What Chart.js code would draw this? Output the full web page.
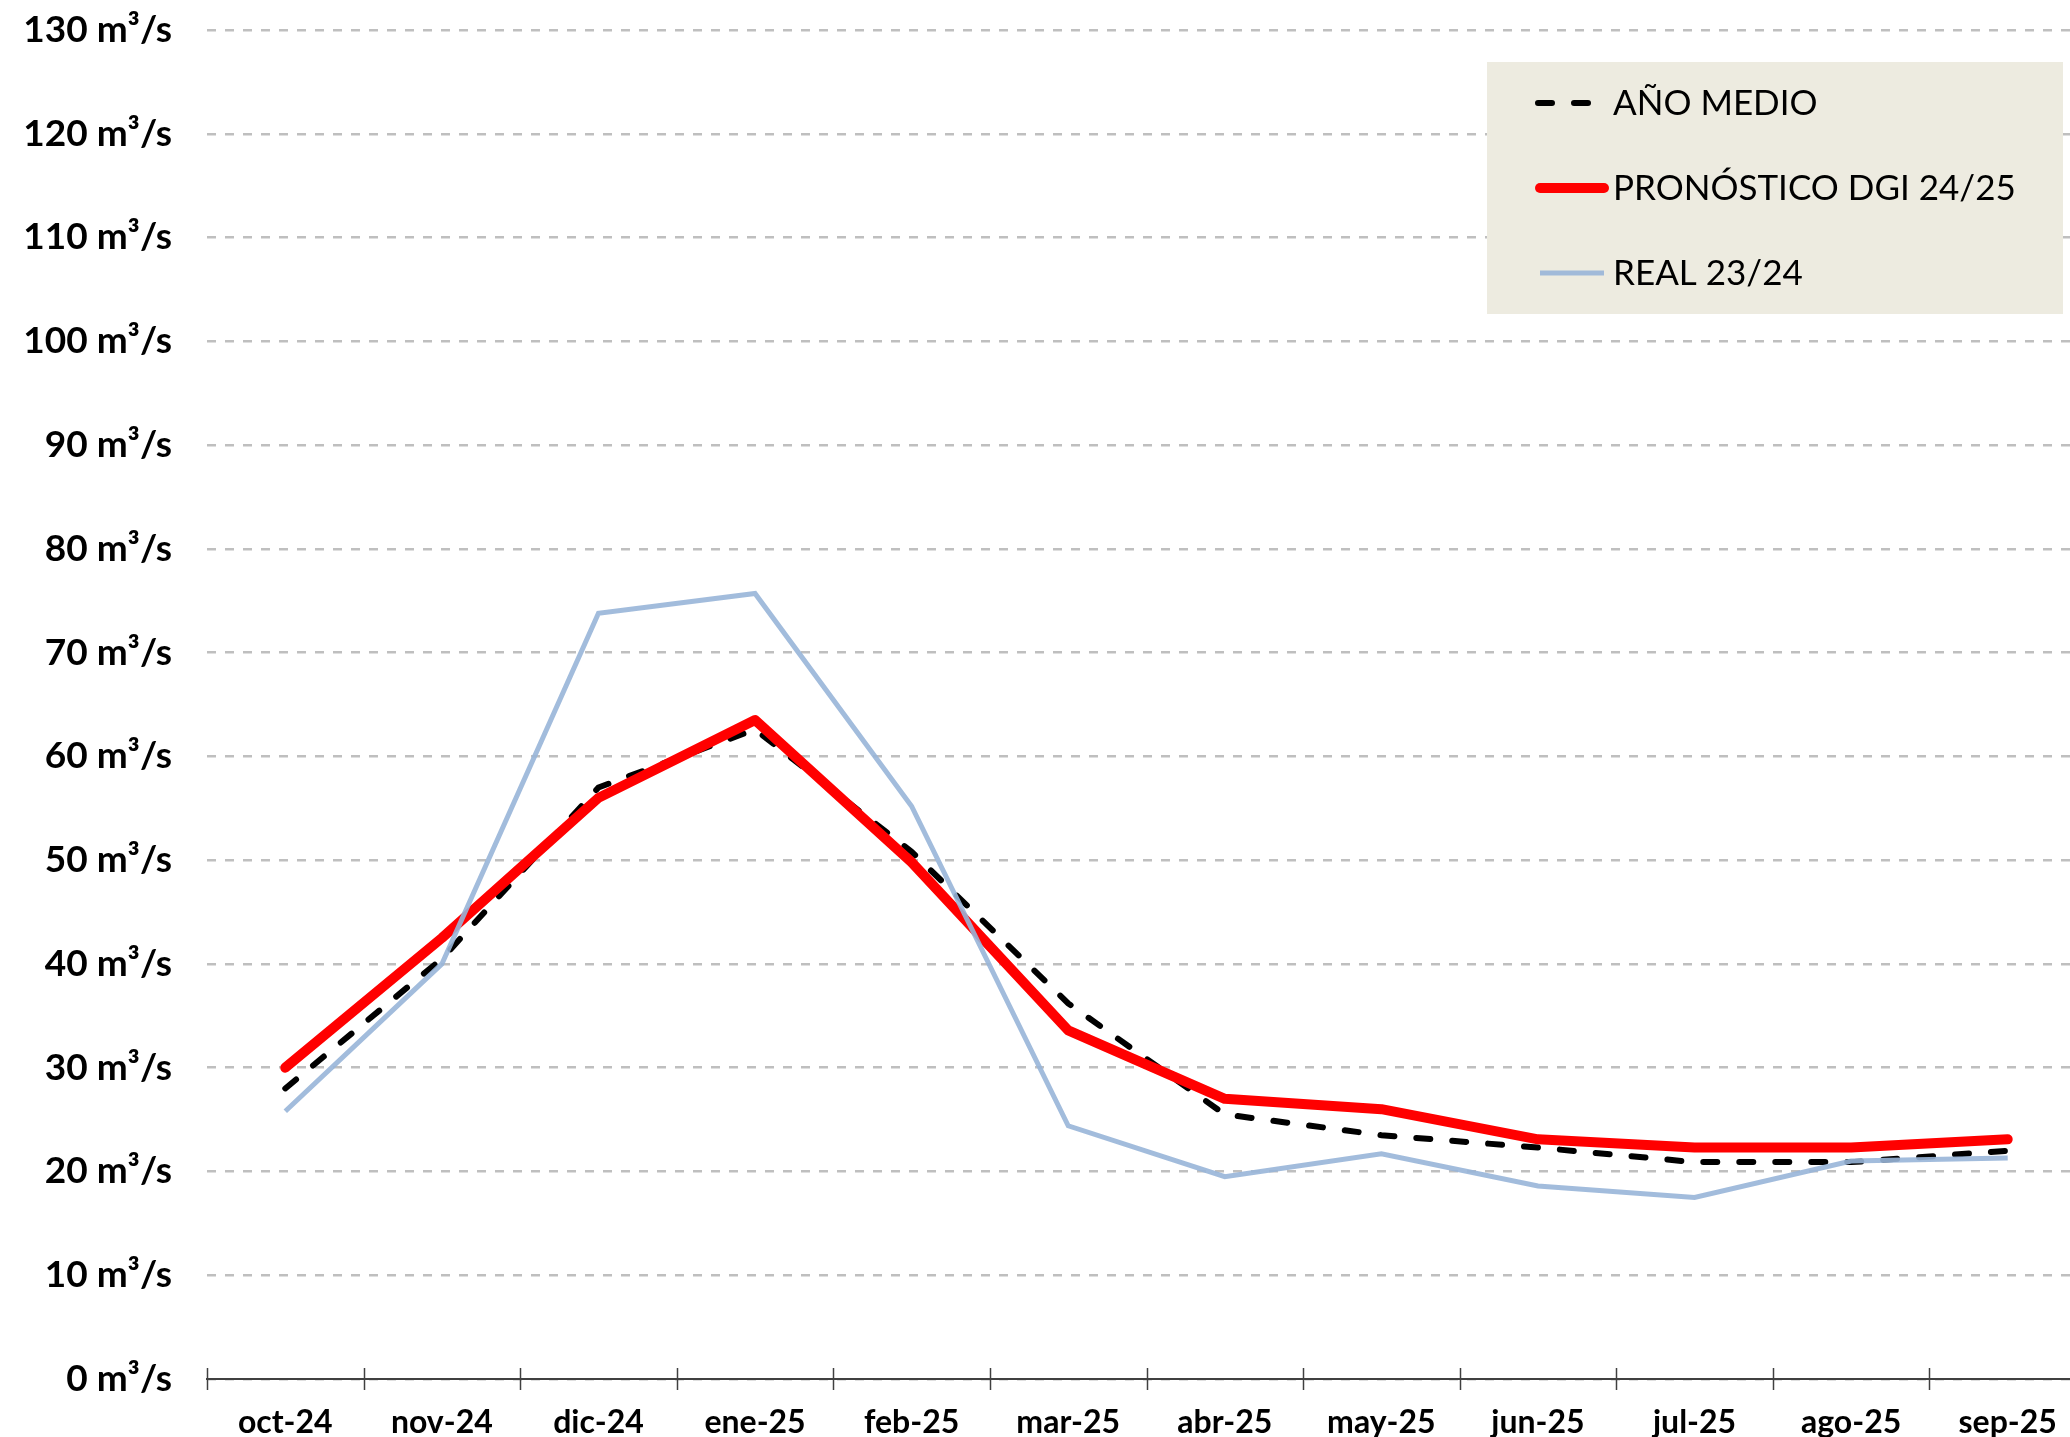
<!DOCTYPE html>
<html lang="es">
<head>
<meta charset="utf-8">
<title>Caudales mensuales</title>
<script src="https://cdn.jsdelivr.net/npm/chart.js@4.4.1/dist/chart.umd.min.js"></script>
<style>
  html, body { margin: 0; padding: 0; background: #ffffff; overflow: hidden; }
  #chart { display: block; }
</style>
</head>
<body>
<canvas id="chart" width="2100" height="1437"></canvas>
<script>
// Meses del año hidrológico
const meses = ['oct-24', 'nov-24', 'dic-24', 'ene-25', 'feb-25', 'mar-25',
  'abr-25', 'may-25', 'jun-25', 'jul-25', 'ago-25', 'sep-25'];

// Caudales en m³/s
const anoMedio = [28, 40.5, 57, 62.6, 50.8, 36.2, 25.5, 23.5, 22.3, 20.9, 20.9, 22.0];
const pronostico = [30, 42.5, 56, 63.5, 49.8, 33.6, 27.0, 26.0, 23.1, 22.3, 22.3, 23.1];
const real = [25.8, 40, 73.8, 75.7, 55.2, 24.4, 19.5, 21.7, 18.6, 17.5, 21.0, 21.3];

const yMin = 0;
const yMax = 130;
const yPaso = 10;

// Marcas cortas que cruzan el eje X en el límite de cada mes
const marcasEjeX = {
  id: 'marcasEjeX',
  afterDraw(chart) {
    const { ctx, scales: { x, y } } = chart;
    const y0 = y.getPixelForValue(0);
    ctx.save();
    ctx.strokeStyle = '#404040';
    ctx.lineWidth = 1.5;
    for (let i = 0; i < meses.length; i++) {
      const px = Math.round(x.getPixelForValue(i - 0.5)) + 0.5;
      ctx.beginPath();
      ctx.moveTo(px, y0 - 11);
      ctx.lineTo(px, y0 + 11);
      ctx.stroke();
    }
    ctx.restore();
  }
};

// Leyenda en recuadro beige, arriba a la derecha
const leyenda = {
  id: 'leyenda',
  afterDraw(chart) {
    const ctx = chart.ctx;
    const caja = { x: 1487, y: 62, w: 576, h: 252 };
    ctx.save();
    ctx.fillStyle = '#EDEBE0';
    ctx.fillRect(caja.x, caja.y, caja.w, caja.h);
    ctx.font = '35px Lato';
    ctx.textBaseline = 'middle';
    ctx.textAlign = 'left';
    chart.data.datasets.forEach((ds, i) => {
      const fy = 103 + i * 85;
      ctx.save();
      ctx.strokeStyle = ds.borderColor;
      ctx.lineWidth = Math.min(ds.borderWidth, 10);
      ctx.lineCap = ds.borderCapStyle || 'butt';
      ctx.setLineDash(ds.borderDash || []);
      ctx.beginPath();
      ctx.moveTo(ds.borderDash ? 1538 : 1540, fy);
      ctx.lineTo(ds.borderDash ? 1590 : 1604, fy);
      ctx.stroke();
      ctx.restore();
      ctx.fillStyle = '#000000';
      ctx.fillText(ds.label, 1613, fy + 1);
    });
    ctx.restore();
  }
};

const ctx = document.getElementById('chart').getContext('2d');
new Chart(ctx, {
  type: 'line',
  data: {
    labels: meses,
    datasets: [
      {
        label: 'AÑO MEDIO',
        data: anoMedio,
        borderColor: '#000000',
        borderWidth: 6,
        borderDash: [14, 22],
        borderCapStyle: 'round',
        order: 3,
      },
      {
        label: 'PRONÓSTICO DGI 24/25',
        data: pronostico,
        borderColor: '#FF0000',
        borderWidth: 10,
        borderCapStyle: 'round',
        borderJoinStyle: 'round',
        order: 2,
      },
      {
        label: 'REAL 23/24',
        data: real,
        borderColor: 'rgba(152, 181, 216, 0.9)',
        borderWidth: 5,
        borderCapStyle: 'butt',
        order: 1,
      },
    ],
  },
  options: {
    responsive: false,
    animation: false,
    devicePixelRatio: 1,
    layout: { padding: { top: 30, right: 14, left: 0, bottom: 0 } },
    elements: {
      point: { radius: 0, hoverRadius: 0 },
      line: { tension: 0 },
    },
    plugins: {
      legend: { display: false },
      tooltip: { enabled: false },
    },
    scales: {
      x: {
        offset: true,
        grid: { display: false },
        border: { display: true, color: '#404040', width: 2 },
        ticks: {
          color: '#000000',
          font: { family: 'Lato', size: 32, weight: 'bold' },
          padding: 16,
          maxRotation: 0,
          autoSkip: false,
        },
        afterFit: s => { s.height = 58; },
      },
      y: {
        min: yMin,
        max: yMax,
        grid: {
          color: '#BFBFBF',
          lineWidth: 2.5,
          drawTicks: false,
        },
        border: { display: false, dash: [9, 9] },
        ticks: {
          stepSize: yPaso,
          color: '#000000',
          padding: 35,
          font: { family: 'Lato', size: 37, weight: 'bold' },
          callback: v => v + ' m³/s',
        },
        afterFit: s => {
          s.width = 207;
          s.paddingTop = 0;
          s.paddingBottom = 0;
        },
      },
    },
  },
  plugins: [marcasEjeX, leyenda],
});
</script>
</body>
</html>
